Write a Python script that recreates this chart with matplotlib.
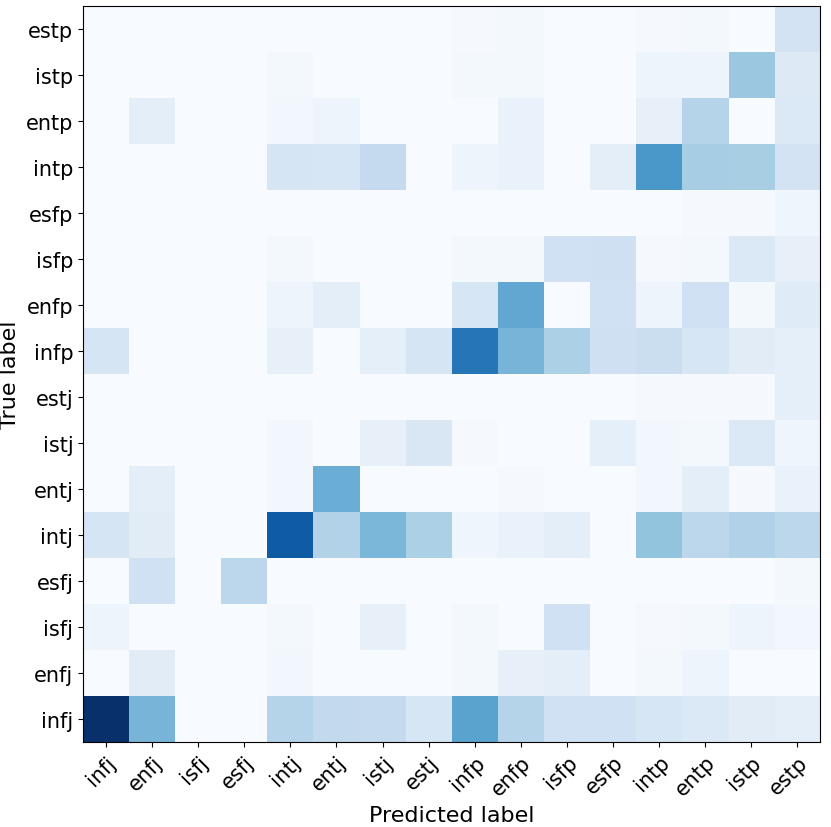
import numpy as np
import matplotlib
matplotlib.use("Agg")
import matplotlib.pyplot as plt

labels = ["infj", "enfj", "isfj", "esfj", "intj", "entj", "istj", "estj",
          "infp", "enfp", "isfp", "esfp", "intp", "entp", "istp", "estp"]

# rows: true label (in the order of labels), columns: predicted label
row_infj = [100, 47, 0, 0, 30, 26, 25, 16, 55, 30, 20, 20, 16, 14, 11, 10]
row_enfj = [0, 11, 0, 0, 3, 0, 0, 0, 2, 8, 10, 0, 2, 5, 0, 0]
row_isfj = [5, 0, 0, 0, 2, 0, 8, 0, 2, 0, 20, 0, 1, 2, 5, 3]
row_esfj = [0, 20, 0, 28, 0, 0, 0, 0, 0, 0, 0, 0, 0, 0, 0, 2]
row_intj = [17, 11, 0, 0, 83, 31, 46, 33, 4, 7, 10, 0, 40, 28, 32, 28]
row_entj = [0, 10, 0, 0, 3, 50, 0, 0, 0, 1, 0, 0, 3, 10, 1, 7]
row_istj = [0, 0, 0, 0, 3, 0, 8, 15, 1, 0, 0, 9, 3, 2, 14, 4]
row_estj = [0, 0, 0, 0, 0, 0, 0, 0, 0, 0, 0, 0, 1, 1, 1, 9]
row_infp = [17, 0, 0, 0, 8, 0, 9, 17, 73, 47, 33, 21, 22, 16, 11, 9]
row_enfp = [0, 0, 0, 0, 5, 10, 0, 0, 16, 53, 0, 20, 5, 20, 2, 12]
row_isfp = [0, 0, 0, 0, 2, 0, 0, 0, 2, 2, 20, 21, 1, 2, 14, 8]
row_esfp = [0, 0, 0, 0, 0, 0, 0, 0, 0, 0, 0, 0, 0, 1, 1, 4]
row_intp = [0, 0, 0, 0, 17, 16, 25, 0, 5, 7, 0, 10, 60, 35, 34, 18]
row_entp = [0, 10, 0, 0, 3, 5, 0, 0, 0, 7, 0, 0, 8, 30, 0, 14]
row_istp = [0, 0, 0, 0, 2, 0, 0, 0, 2, 2, 0, 0, 5, 5, 38, 13]
row_estp = [0, 0, 0, 0, 0, 0, 0, 0, 1, 2, 0, 0, 1, 2, 0, 18]

cm = np.array([row_infj, row_enfj, row_isfj, row_esfj, row_intj, row_entj,
               row_istj, row_estj, row_infp, row_enfp, row_isfp, row_esfp,
               row_intp, row_entp, row_istp, row_estp], dtype=float)

fig = plt.figure(figsize=(8.31, 8.28), dpi=100)
ax = fig.add_axes([0.1, 0.1027, 0.887, 0.8888])
ax.imshow(cm, cmap="Blues", origin="lower", aspect="auto",
          interpolation="nearest", vmin=0, vmax=100)
ticks = np.arange(len(labels))
ax.set_xticks(ticks)
ax.set_yticks(ticks)
ax.set_xticklabels(labels, rotation=45, ha="right", rotation_mode="anchor", fontsize=15)
ax.set_yticklabels(labels, fontsize=15)
ax.set_xlabel("Predicted label", fontsize=16)
ax.set_ylabel("True label", fontsize=16)
fig.savefig("out.png", dpi=100)
